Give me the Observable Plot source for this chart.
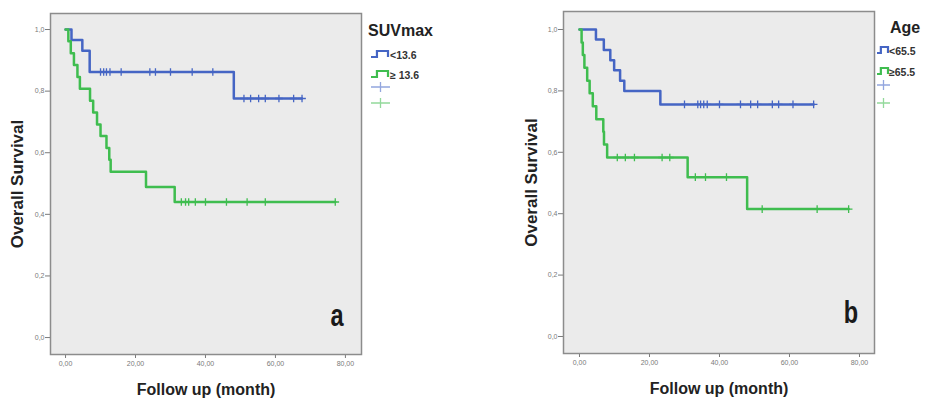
<!DOCTYPE html>
<html>
<head>
<meta charset="utf-8">
<script src="https://cdn.jsdelivr.net/npm/d3@7"></script>
<script src="https://cdn.jsdelivr.net/npm/@observablehq/plot@0.6"></script>
<style>
  html, body { margin: 0; padding: 0; background: #fff; }
  #wrap { position: relative; width: 933px; height: 398px; overflow: hidden; font-family: "Liberation Sans", Arial, sans-serif; }
  #A, #B, .legend { position: absolute; top: 0; }
  #A { left: 0; }
  #B { left: 470px; }
</style>
</head>
<body>
<div id="wrap">
  <div id="A"></div>
  <div id="B"></div>
  <svg class="legend" id="legA" style="left:362px" width="100" height="120"></svg>
  <svg class="legend" id="legB" style="left:870px" width="63" height="120"></svg>
</div>
<script>
// ---------- Data ----------
const xTicks = [0, 20, 40, 60, 80];
const yTicks = [0, 0.2, 0.4, 0.6, 0.8, 1.0];

// Panel a: SUVmax
const aGroupLabels = ["<13.6", "\u2265 13.6"];
const aLowTimes = [0, 1.7, 4.8, 6.9, 48.1];
const aLowSurv = [1, 0.966, 0.931, 0.862, 0.776];
const aLowEnd = 67.6;
const aLowCensor = [10, 10.9, 11.7, 12.7, 15.9, 24.1, 25.7, 30, 36.2, 42.1, 51, 52.9, 55.2, 57.1, 61, 65.2, 67.6];

const aHighTimes = [0, 0.8, 1.5, 2.4, 3.4, 4.1, 7.0, 7.9, 9.0, 10.0, 11.7, 12.5, 12.9, 23.0, 31.2];
const aHighSurv = [1, 0.962, 0.923, 0.885, 0.846, 0.808, 0.769, 0.731, 0.692, 0.654, 0.615, 0.577, 0.538, 0.489, 0.440];
const aHighEnd = 77.1;
const aHighCensor = [33.1, 34.3, 35.2, 37.1, 40, 46, 51.9, 57.1, 77.1];

// Panel b: Age
const bGroupLabels = ["<65.5", "\u226565.5"];
const bLowTimes = [0, 4.7, 6.95, 8.8, 9.9, 11.6, 12.8, 23.1];
const bLowSurv = [1, 0.967, 0.933, 0.900, 0.867, 0.833, 0.800, 0.756];
const bLowEnd = 66.9;
const bLowCensor = [30, 33.8, 34.6, 35.5, 36.5, 40, 46, 48.9, 50.9, 55.1, 56.9, 61, 66.9];

const bHighTimes = [0, 0.6, 0.95, 1.4, 2.2, 2.9, 3.8, 4.8, 6.8, 7.0, 7.9, 30.9, 47.9];
const bHighSurv = [1, 0.958, 0.917, 0.875, 0.833, 0.792, 0.750, 0.708, 0.667, 0.625, 0.583, 0.519, 0.415];
const bHighEnd = 76.9;
const bHighCensor = [10.8, 13.1, 15.7, 23.6, 25.8, 33.1, 36, 42, 52.2, 67.9, 76.9];

// ---------- Helpers ----------
const BLUE = "#4565c4";
const GREEN = "#3fbd4f";
const BLUE_L = "#93a6de";
const GREEN_L = "#93d99b";

function stepPoints(times, surv, end) {
  const pts = times.map((t, i) => ({t, s: surv[i]}));
  pts.push({t: end, s: surv[surv.length - 1]});
  return pts;
}
function survAt(times, surv, t) {
  let s = surv[0];
  for (let i = 0; i < times.length; i++) if (times[i] <= t) s = surv[i];
  return s;
}
function censorPoints(censor, times, surv) {
  return censor.map(t => ({t, s: survAt(times, surv, t)}));
}
const fmtY = d => d.toFixed(1).replace(".", ",");
const fmtX = d => d.toFixed(2).replace(".", ",");

function panel(cfg) {
  const svg = Plot.plot({
    width: cfg.width, height: 398,
    marginLeft: cfg.ml, marginRight: cfg.mr, marginTop: cfg.mt, marginBottom: cfg.mb,
    x: {domain: cfg.xd},
    y: {domain: cfg.yd},
    style: {fontFamily: "'Liberation Sans', Arial, sans-serif", background: "transparent", overflow: "visible"},
    marks: [
      Plot.frame({fill: "#ebebeb", stroke: null}),
      Plot.axisY(yTicks, {tickFormat: fmtY, tickSize: 5, tickPadding: 1, fontSize: 7, color: "#7a7a7a", label: null}),
      Plot.axisX(xTicks, {tickFormat: fmtX, tickSize: 4, tickPadding: 3, fontSize: 7, color: "#7a7a7a", label: null}),
      Plot.line(stepPoints(cfg.lowT, cfg.lowS, cfg.lowE), {x: "t", y: "s", curve: "step-after", stroke: BLUE, strokeWidth: 2.5}),
      Plot.line(stepPoints(cfg.highT, cfg.highS, cfg.highE), {x: "t", y: "s", curve: "step-after", stroke: GREEN, strokeWidth: 2.5}),
      Plot.dot(censorPoints(cfg.lowC, cfg.lowT, cfg.lowS), {x: "t", y: "s", symbol: "plus", r: 2.6, stroke: BLUE, strokeWidth: 1.3}),
      Plot.dot(censorPoints(cfg.highC, cfg.highT, cfg.highS), {x: "t", y: "s", symbol: "plus", r: 2.6, stroke: GREEN, strokeWidth: 1.3}),
      Plot.text(["Overall Survival"], {frameAnchor: "left", rotate: -90, dx: cfg.ytdx, fontSize: 17, fontWeight: "bold", fill: "#222", textAnchor: "middle", lineAnchor: "middle", style: "letter-spacing:0.5px"}),
      Plot.text(["Follow up (month)"], {frameAnchor: "bottom", dy: 35, fontSize: 16, fontWeight: "bold", fill: "#222", textAnchor: "middle", lineAnchor: "middle"}),
      Plot.text([cfg.letter], {frameAnchor: "bottom-right", dx: cfg.ldx, dy: cfg.ldy, fontSize: 31, fontWeight: "bold", fill: "#1a1a1a", textAnchor: "middle", lineAnchor: "middle"}),
      Plot.frame({stroke: "#8c8c8c", strokeWidth: 1.5})
    ]
  });
  // condense the panel letter horizontally (reference uses a condensed bold face)
  d3.select(svg).selectAll("text").filter(function() { return this.textContent === cfg.letter; })
    .each(function() {
      const el = d3.select(this);
      const x = +el.attr("x") || 0, y = +el.attr("y") || 0;
      const t = el.attr("transform") || "";
      el.attr("x", null).attr("y", null)
        .attr("transform", `${t} translate(${x},${y}) scale(0.76,1)`);
    });
  return svg;
}

document.getElementById("A").append(panel({
  width: 470, ml: 50, mr: 109, mt: 13, mb: 44,
  xd: [-4.3, 84.6], yd: [-0.055, 1.052],
  lowT: aLowTimes, lowS: aLowSurv, lowE: aLowEnd, lowC: aLowCensor,
  highT: aHighTimes, highS: aHighSurv, highE: aHighEnd, highC: aHighCensor,
  ytdx: -32.5, letter: "a", ldx: -24.5, ldy: -29
}));
document.getElementById("B").append(panel({
  width: 463, ml: 93, mr: 59, mt: 11, mb: 45,
  xd: [-4.57, 84.29], yd: [-0.0554, 1.0586],
  lowT: bLowTimes, lowS: bLowSurv, lowE: bLowEnd, lowC: bLowCensor,
  highT: bHighTimes, highS: bHighSurv, highE: bHighEnd, highC: bHighCensor,
  ytdx: -32, letter: "b", ldx: -23.5, ldy: -31
}));

// ---------- Legends ----------
function legend(svgId, title, labels, L) {
  const svg = d3.select("#" + svgId);
  svg.append("text").attr("x", L.tx).attr("y", L.ty).text(title)
    .attr("font-size", 16).attr("font-weight", "bold").attr("fill", "#222")
    .attr("font-family", "'Liberation Sans', Arial, sans-serif");
  const cols = [BLUE, GREEN];
  labels.forEach((lab, i) => {
    const yb = L.rows[i];
    const x0 = L.ix, w = L.iw;
    svg.append("path")
      .attr("d", `M${x0},${yb} H${x0 + w * 0.35} V${yb - 6} H${x0 + w} V${yb}`)
      .attr("fill", "none").attr("stroke", cols[i]).attr("stroke-width", 2.2);
    svg.append("text").attr("x", x0 + w + L.gap).attr("y", yb + 1.5).text(lab)
      .attr("font-size", L.fs).attr("font-weight", "bold").attr("fill", "#333")
      .attr("font-family", "'Liberation Sans', Arial, sans-serif");
  });
  const pc = [BLUE_L, GREEN_L];
  L.plus.forEach((py, i) => {
    const x0 = L.ix, w = L.pw;
    svg.append("path")
      .attr("d", `M${x0},${py} H${x0 + w} M${x0 + w / 2},${py - 5} V${py + 5}`)
      .attr("fill", "none").attr("stroke", pc[i]).attr("stroke-width", 1.3);
  });
}
legend("legA", "SUVmax", aGroupLabels, {tx: 6, ty: 36, ix: 9, iw: 17, gap: 2, fs: 10.5, rows: [57, 77], plus: [87, 103], pw: 19});
legend("legB", "Age", bGroupLabels, {tx: 20, ty: 33, ix: 7, iw: 11, gap: 1, fs: 10.5, rows: [53, 74], plus: [85, 103], pw: 13});
</script>
</body>
</html>
